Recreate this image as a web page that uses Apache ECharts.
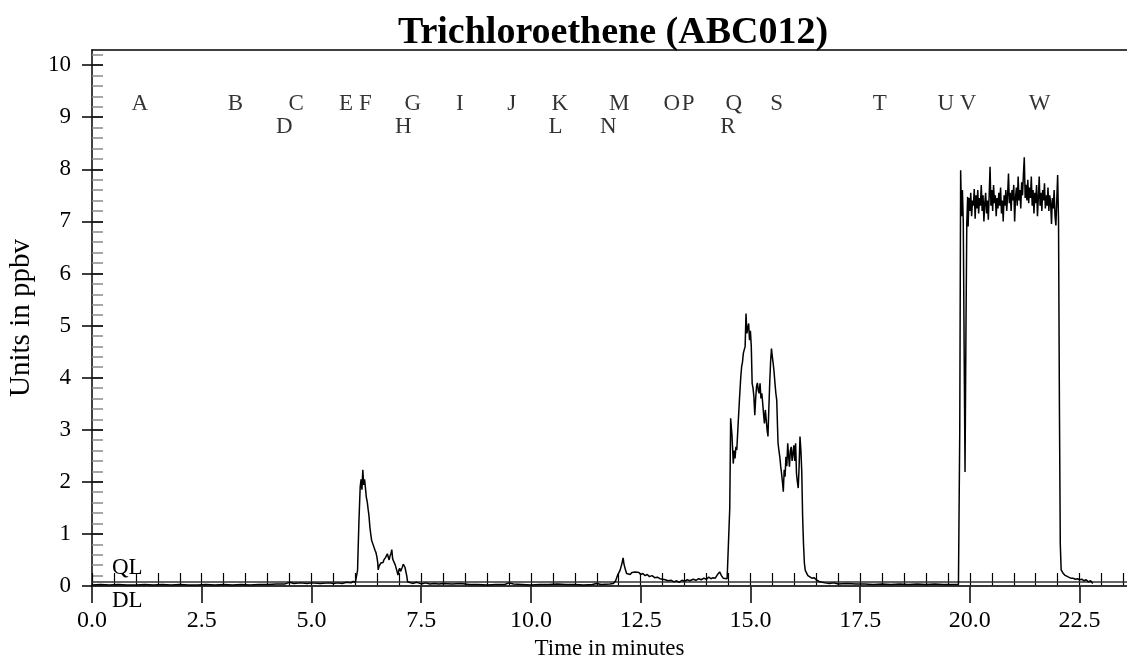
<!DOCTYPE html>
<html><head><meta charset="utf-8">
<script src="https://cdn.jsdelivr.net/npm/echarts@6/dist/echarts.min.js"></script>
<style>html,body{margin:0;padding:0;background:#fff}#c{width:1127px;height:660px}</style>
</head><body><div id="c"></div>
<script>
const chartTitle = 'Trichloroethene (ABC012)';
const xAxisName = 'Time in minutes';
const yAxisName = 'Units in ppbv';
const X_MAX = 23.58;
const Y_MAX = 10.29;
const xMajorTicks = [0, 2.5, 5, 7.5, 10, 12.5, 15, 17.5, 20, 22.5];
const xMinorTicks = [0,0.5,1,1.5,2,2.5,3,3.5,4,4.5,5,5.5,6,6.5,7,7.5,8,8.5,9,9.5,10,10.5,11,11.5,12,12.5,13,13.5,14,14.5,15,15.5,16,16.5,17,17.5,18,18.5,19,19.5,20,20.5,21,21.5,22,22.5,23,23.5];
const yMajorTicks = [0,1,2,3,4,5,6,7,8,9,10];
const yMinorTicks = [0,0.2,0.4,0.6,0.8,1,1.2,1.4,1.6,1.8,2,2.2,2.4,2.6,2.8,3,3.2,3.4,3.6,3.8,4,4.2,4.4,4.6,4.8,5,5.2,5.4,5.6,5.8,6,6.2,6.4,6.6,6.8,7,7.2,7.4,7.6,7.8,8,8.2,8.4,8.6,8.8,9,9.2,9.4,9.6,9.8,10,10.2];

const QL = 0.083;
const DL = 0.01;

const eventLabels = ['A','B','C','D','E','F','G','H','I','J','K','L','M','N','O','P','Q','R','S','T','U','V','W'];
const eventTimes  = [1.09,3.27,4.65,4.38,5.79,6.23,7.31,7.09,8.38,9.56,10.66,10.56,12.01,11.76,13.21,13.58,14.62,14.49,15.60,17.95,19.45,19.96,21.59];
const eventRows   = [9.26,9.26,9.26,8.82,9.26,9.26,9.26,8.82,9.26,9.26,9.26,8.82,9.26,8.82,9.26,9.26,9.26,8.82,9.26,9.26,9.26,9.26,9.26];

const baselineStart = [[0.0,0.02],[0.2,0.03],[0.4,0.02],[0.6,0.03],[0.8,0.02],[1.0,0.02],[1.2,0.03],[1.4,0.02],[1.6,0.03],[1.8,0.02],[2.0,0.03],[2.2,0.02],[2.4,0.02],[2.6,0.03],[2.8,0.02],[3.0,0.03],[3.2,0.02],[3.4,0.03],[3.6,0.02],[3.8,0.03],[4.0,0.03],[4.2,0.04],[4.4,0.04],[4.5,0.07],[4.6,0.05],[4.75,0.06],[4.9,0.05],[5.0,0.06],[5.2,0.05],[5.4,0.06],[5.5,0.05],[5.6,0.06],[5.7,0.05],[5.8,0.07],[5.9,0.06],[5.95,0.09],[6.0,0.07],[6.03,0.08]];
const peakF = [[6.05,0.3],[6.08,1.2],[6.11,1.9],[6.13,2.05],[6.15,1.85],[6.17,2.23],[6.19,1.94],[6.21,2.05],[6.23,1.88],[6.25,1.7],[6.27,1.62],[6.29,1.48],[6.31,1.35],[6.33,1.14],[6.35,1.0],[6.37,0.88],[6.39,0.9],[6.41,0.78],[6.43,0.75],[6.45,0.68],[6.47,0.64],[6.49,0.56],[6.51,0.45],[6.52,0.31],[6.54,0.38],[6.56,0.37],[6.58,0.44],[6.6,0.47],[6.63,0.45],[6.65,0.5],[6.67,0.49],[6.69,0.55],[6.71,0.52],[6.73,0.62],[6.75,0.55],[6.77,0.5],[6.79,0.58],[6.81,0.62],[6.83,0.7],[6.85,0.52],[6.87,0.48],[6.89,0.45],[6.91,0.4],[6.93,0.37],[6.95,0.28],[6.97,0.21],[6.99,0.3],[7.01,0.34],[7.03,0.28],[7.05,0.32],[7.07,0.36],[7.09,0.42],[7.11,0.44],[7.13,0.36],[7.15,0.34],[7.17,0.2],[7.19,0.08],[7.21,0.06]];
const baselineMid = [[7.3,0.05],[7.4,0.07],[7.5,0.04],[7.6,0.06],[7.7,0.04],[7.8,0.05],[7.9,0.04],[8.0,0.05],[8.2,0.04],[8.4,0.05],[8.6,0.03],[8.8,0.03],[9.0,0.02],[9.2,0.03],[9.4,0.03],[9.5,0.06],[9.6,0.04],[9.8,0.03],[10.0,0.02],[10.2,0.03],[10.4,0.03],[10.6,0.04],[10.8,0.03],[11.0,0.03],[11.2,0.02],[11.4,0.03],[11.5,0.05],[11.6,0.03],[11.8,0.04],[11.88,0.05]];
const bumpM = [[11.93,0.1],[11.98,0.22],[12.03,0.3],[12.07,0.42],[12.1,0.54],[12.12,0.42],[12.15,0.32],[12.18,0.24],[12.22,0.27],[12.26,0.22],[12.3,0.26],[12.34,0.23],[12.38,0.27],[12.42,0.24],[12.46,0.26],[12.5,0.22],[12.55,0.24],[12.6,0.2],[12.65,0.22],[12.7,0.18],[12.76,0.2],[12.82,0.16],[12.88,0.17],[12.94,0.14],[13.0,0.13],[13.06,0.12],[13.12,0.1],[13.2,0.11],[13.26,0.08],[13.32,0.1],[13.38,0.07],[13.44,0.11],[13.5,0.09],[13.56,0.12],[13.62,0.1],[13.7,0.13],[13.76,0.11],[13.82,0.14],[13.88,0.12],[13.94,0.15],[14.0,0.13],[14.05,0.17],[14.1,0.14],[14.15,0.16],[14.2,0.15],[14.25,0.22],[14.3,0.27],[14.34,0.2],[14.38,0.15],[14.42,0.12],[14.47,0.14],[14.51,0.16]];
const peakQ = [[14.53,1.5],[14.55,3.22],[14.58,2.9],[14.61,2.35],[14.63,2.6],[14.65,2.45],[14.67,2.67],[14.69,2.61],[14.72,3.1],[14.75,3.57],[14.78,4.0],[14.8,4.21],[14.82,4.3],[14.84,4.47],[14.86,4.5],[14.88,4.6],[14.9,5.23],[14.92,4.85],[14.94,4.95],[14.96,5.04],[14.98,4.72],[15.0,4.9],[15.02,4.6],[15.04,3.89],[15.06,3.8],[15.08,3.63],[15.1,3.28],[15.12,3.6],[15.14,3.83],[15.16,3.9],[15.18,3.75],[15.2,3.7],[15.22,3.89],[15.24,3.6],[15.26,3.7],[15.28,3.51],[15.3,3.3],[15.32,3.12],[15.34,3.38],[15.36,3.2],[15.38,3.0],[15.4,2.87],[15.42,3.4],[15.44,3.89],[15.46,4.3],[15.48,4.56],[15.5,4.4],[15.52,4.27],[15.54,4.1],[15.56,3.89],[15.58,3.7],[15.6,3.57],[15.62,3.0],[15.63,2.74],[15.65,2.6],[15.67,2.48],[15.69,2.3],[15.71,2.16],[15.73,2.0],[15.75,1.81],[15.77,2.23],[15.79,2.1],[15.81,2.48],[15.83,2.3],[15.85,2.74],[15.87,2.5],[15.89,2.29],[15.91,2.6],[15.93,2.67],[15.95,2.4],[15.97,2.55],[15.99,2.7],[16.01,2.4],[16.03,2.74],[16.05,2.16],[16.07,2.0],[16.09,1.88],[16.11,2.3],[16.13,2.87],[16.15,2.61],[16.17,2.2],[16.19,1.33],[16.21,0.8],[16.23,0.44],[16.25,0.3],[16.28,0.27],[16.31,0.2],[16.35,0.21],[16.4,0.15],[16.45,0.16],[16.5,0.12],[16.58,0.08]];
const baselineLate = [[16.7,0.06],[16.8,0.05],[16.9,0.06],[17.0,0.04],[17.2,0.05],[17.4,0.04],[17.6,0.04],[17.8,0.03],[18.0,0.04],[18.2,0.03],[18.4,0.04],[18.6,0.03],[18.8,0.04],[19.0,0.03],[19.2,0.04],[19.4,0.03],[19.6,0.03],[19.74,0.03]];
const plateauV = [[19.77,3.0],[19.79,7.98],[19.81,7.1],[19.83,7.6],[19.85,7.0],[19.87,4.5],[19.89,2.19],[19.91,4.8],[19.93,6.96],[19.95,7.47],[19.96,6.9],[19.98,7.45],[20.0,7.2],[20.02,7.55],[20.04,7.1],[20.06,7.4],[20.08,7.3],[20.1,7.62],[20.12,7.05],[20.14,7.5],[20.16,7.25],[20.18,7.6],[20.2,7.15],[20.22,7.45],[20.24,7.3],[20.26,7.7],[20.28,7.2],[20.3,7.5],[20.32,7.0],[20.34,7.35],[20.36,7.55],[20.38,7.15],[20.4,7.4],[20.42,7.03],[20.44,7.5],[20.46,8.05],[20.48,7.3],[20.5,7.6],[20.52,7.2],[20.54,7.7],[20.56,7.35],[20.58,7.5],[20.6,7.1],[20.62,7.45],[20.64,7.25],[20.66,7.55],[20.68,7.3],[20.7,7.65],[20.72,7.15],[20.74,7.4],[20.76,7.0],[20.78,7.5],[20.8,7.3],[20.82,7.6],[20.84,7.2],[20.86,7.5],[20.88,7.92],[20.9,7.35],[20.92,7.55],[20.94,7.2],[20.96,7.6],[20.98,7.4],[21.0,7.7],[21.02,7.0],[21.04,7.45],[21.06,7.65],[21.08,7.3],[21.1,7.86],[21.12,7.4],[21.14,7.6],[21.16,7.25],[21.18,7.75],[21.2,7.5],[21.22,7.9],[21.24,8.23],[21.26,7.45],[21.28,7.7],[21.3,7.4],[21.32,7.8],[21.34,7.35],[21.36,7.65],[21.38,7.45],[21.4,7.86],[21.42,7.3],[21.44,7.6],[21.46,7.15],[21.48,7.55],[21.5,7.35],[21.52,7.7],[21.54,7.1],[21.56,7.45],[21.58,7.86],[21.6,7.3],[21.62,7.55],[21.64,7.2],[21.66,7.6],[21.68,7.4],[21.7,7.73],[21.72,7.25],[21.74,7.5],[21.76,7.3],[21.78,7.65],[21.8,7.2],[21.82,7.5],[21.84,7.35],[21.86,6.95],[21.88,7.45],[21.9,7.25],[21.92,7.6],[21.94,7.1],[21.96,6.92],[21.98,7.4],[22.0,7.89],[22.02,7.0],[22.04,3.5],[22.06,0.8],[22.08,0.31]];
const tailW = [[22.12,0.25],[22.16,0.21],[22.2,0.2],[22.25,0.17],[22.3,0.15],[22.35,0.15],[22.4,0.13],[22.45,0.14],[22.5,0.12],[22.55,0.13],[22.6,0.1],[22.65,0.12],[22.7,0.08],[22.75,0.1],[22.8,0.05]];

const signal = [].concat(baselineStart, peakF, baselineMid, bumpM, peakQ, baselineLate, plateauV, tailW);

const FONT = '"Liberation Serif", "Times New Roman", Times, serif';
const AX = {color:'#000', width:1.5};

const chart = echarts.init(document.getElementById('c'), null, {renderer:'canvas'});
const xBase = {type:'value', min:0, max:X_MAX, splitLine:{show:false}};
const yBase = {type:'value', min:0, max:Y_MAX, splitLine:{show:false}, position:'left'};

chart.setOption({
  animation:false,
  backgroundColor:'#fff',
  title:{text:chartTitle, left:608, textAlign:'center', top:9,
    textStyle:{fontFamily:FONT, fontSize:38, fontWeight:'bold', color:'#000'}},
  grid:{left:92, right:0, top:50, bottom:74, outerBoundsMode:'none'},
  xAxis:[
    Object.assign({}, xBase, {position:'bottom',
      axisLine:{show:true, onZero:false, lineStyle:AX},
      axisTick:{show:true, inside:true, length:13, customValues:xMinorTicks, lineStyle:{color:'#000', width:1.2}},
      axisLabel:{show:true, customValues:xMajorTicks, formatter:v=>v.toFixed(1), margin:23, fontSize:24, color:'#000', fontFamily:FONT},
      name:xAxisName, nameLocation:'middle', nameGap:50,
      nameTextStyle:{fontFamily:FONT, fontSize:23, color:'#000'}}),
    Object.assign({}, xBase, {position:'bottom',
      axisLine:{show:false, onZero:false},
      axisTick:{show:true, inside:false, length:17, customValues:xMajorTicks, lineStyle:{color:'#000', width:1.5}},
      axisLabel:{show:false}}),
    Object.assign({}, xBase, {position:'top',
      axisLine:{show:true, onZero:false, lineStyle:AX},
      axisTick:{show:false}, axisLabel:{show:false}})
  ],
  yAxis:[
    Object.assign({}, yBase, {
      axisLine:{show:true, onZero:false, lineStyle:AX},
      axisTick:{show:true, inside:true, length:11, customValues:yMinorTicks, lineStyle:{color:'#8a8a8a', width:1.5}},
      axisLabel:{show:true, customValues:yMajorTicks, margin:21, fontSize:23, color:'#000', fontFamily:FONT},
      name:yAxisName, nameLocation:'middle', nameGap:56,
      nameTextStyle:{fontFamily:FONT, fontSize:29, color:'#000'}}),
    Object.assign({}, yBase, {
      axisLine:{show:false, onZero:false},
      axisTick:{show:true, inside:false, length:10, customValues:yMajorTicks, lineStyle:{color:'#000', width:1.5}},
      axisLabel:{show:false}}),
    Object.assign({}, yBase, {
      axisLine:{show:false, onZero:false},
      axisTick:{show:true, inside:true, length:11, customValues:yMajorTicks, lineStyle:{color:'#000', width:1.5}},
      axisLabel:{show:false}})
  ],
  series:[
    {type:'line', name:'signal', data:signal, showSymbol:false, symbol:'none',
      lineStyle:{color:'#000', width:1.5}, z:5,
      markLine:{silent:true, symbol:'none', animation:false,
        lineStyle:{color:'#333', width:1.5, type:'solid'},
        data:[
          {yAxis:QL, label:{show:true, formatter:'QL', position:'insideStartTop', distance:[20,2], fontFamily:FONT, fontSize:23, color:'#000'}},
          {yAxis:DL, label:{show:true, formatter:'DL', position:'insideStartBottom', distance:[20,4], fontFamily:FONT, fontSize:23, color:'#000'}}
        ]}},
    {type:'scatter', name:'events', symbolSize:0, silent:true,
      data:eventLabels.map((n,i)=>({name:n, value:[eventTimes[i], eventRows[i]]})),
      label:{show:true, position:'inside', formatter:p=>p.name, fontFamily:FONT, fontSize:23, color:'#000'}}
  ]
});
</script>
</body></html>
